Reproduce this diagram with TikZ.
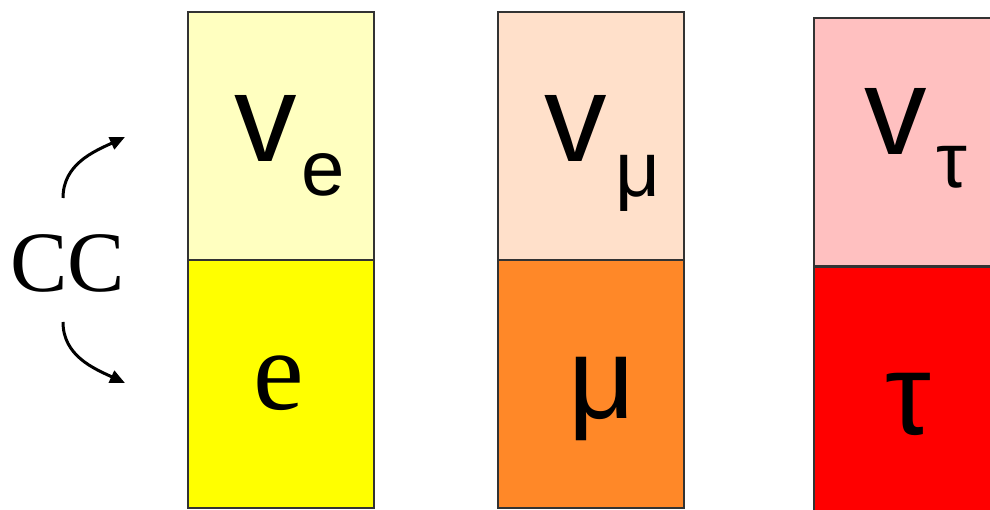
\documentclass[tikz,border=0pt]{standalone}
\usepackage{fontspec}
\setmainfont{Liberation Serif}
\newfontfamily\sansgr{Liberation Sans}
\usetikzlibrary{arrows.meta}
\definecolor{ltyellow}{HTML}{FFFFC0}
\definecolor{myyellow}{HTML}{FFFF00}
\definecolor{peach}{HTML}{FFE0CA}
\definecolor{myorange}{HTML}{FF8828}
\definecolor{pink}{HTML}{FFC0C0}
\definecolor{myred}{HTML}{FF0000}
\definecolor{edge}{HTML}{333333}
\tikzset{
  cell/.style={draw=edge, line width=1.5pt, minimum width=186pt, minimum height=248pt, anchor=north west, inner sep=0pt, outer sep=0pt},
  big/.style={font=\sansgr\fontsize{125}{125}\selectfont, anchor=base, inner sep=0pt},
  sub/.style={font=\sansgr\fontsize{78}{78}\selectfont, anchor=base, inner sep=0pt},
  bigsans/.style={font=\sansgr\fontsize{116}{116}\selectfont, anchor=base, inner sep=0pt},
  ccarrow/.style={line width=3pt, -{Triangle[length=15pt,width=13pt]}}
}
\begin{document}
\begin{tikzpicture}[x=1pt,y=1pt]
\clip (0,0) rectangle (990,509);
% column 1
\node[cell, fill=ltyellow] (nue) at (188,497) {};
\node[cell, fill=myyellow] (el) at (188,249) {};
% column 2
\node[cell, fill=peach] (numu) at (498,497) {};
\node[cell, fill=myorange] (mu) at (498,249) {};
% column 3
\node[cell, fill=pink] (nutau) at (814,491) {};
\node[cell, fill=myred] (tau) at (814,242) {};
% labels
\node[big] (t1) at (266,347) {v};
\node[sub] (s1) at (323.5,313) {e};
\node[big] (t2) at (576,347) {v};
\node[sub] (s2) at (637.5,312) {μ};
\node[big] (t3) at (896,354) {v};
\node[sub] (s3) at (952,321) {τ};
\node[font=\rmfamily\fontsize{114}{114}\selectfont, anchor=base, inner sep=0pt] (t4) at (278.5,100) {e};
\node[bigsans] (t5) at (602,91) {μ};
\node[bigsans] (t6) at (908.5,75) {τ};
% CC
\node[font=\rmfamily\fontsize{86}{86}\selectfont, anchor=base, inner sep=0pt] (cc) at (67.5,217) {CC};
\coordinate (ua) at (63,311);
\coordinate (ub) at (125,372);
\coordinate (la) at (63,187);
\coordinate (lb) at (125,126);
\draw[ccarrow] (ua) to[out=90, in=205] (ub);
\draw[ccarrow] (la) to[out=-90, in=155] (lb);
\end{tikzpicture}
\end{document}
